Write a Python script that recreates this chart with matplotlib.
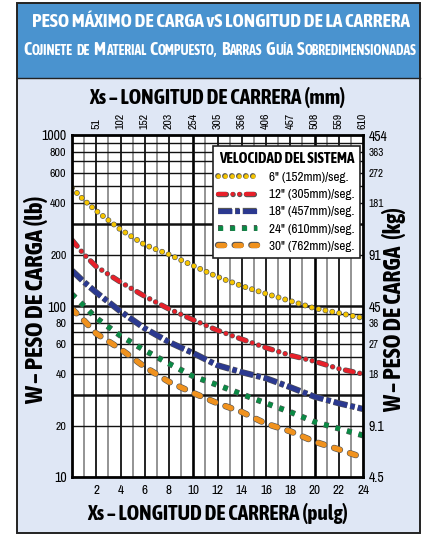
import matplotlib
matplotlib.use("Agg")
import matplotlib.pyplot as plt
import matplotlib.patheffects as pe
from matplotlib import font_manager
from matplotlib.patches import Rectangle
from matplotlib.ticker import FixedLocator, NullLocator, NullFormatter

plt.rcParams['font.family'] = ['Archivo Narrow', 'DejaVu Sans']
plt.rcParams['lines.scale_dashes'] = False

# data (stroke in inches, load in lb)
stroke_in = [0, 1, 2, 4, 6, 8, 10, 12, 14, 16, 18, 20, 22, 24]
load_6 = [490, 415, 360, 280, 228, 200, 172, 148, 131, 118, 107, 97, 91, 85]
load_12 = [243, 200, 170, 138, 114, 96, 83, 72, 64, 57, 51.5, 47.5, 43, 40]
load_18 = [161, 138, 120, 93, 74, 61.5, 53, 45, 41, 37.8, 33.5, 29.5, 27, 25]
load_24 = [117, 100, 85, 67, 55, 46, 38.8, 34.5, 30.5, 27, 24, 21, 19.2, 17.5]
load_30 = [96, 82, 69, 56, 44, 36, 31, 27, 24, 20.5, 18.5, 16.1, 14.5, 13]

series_labels = ['6" (152mm)/seg.', '12" (305mm)/seg.', '18" (457mm)/seg.',
                 '24" (610mm)/seg.', '30" (762mm)/seg.']

inch_ticks = [2, 4, 6, 8, 10, 12, 14, 16, 18, 20, 22, 24]
mm_labels = ['51', '102', '152', '203', '254', '305', '356', '406', '457', '508', '559', '610']
lb_ticks = [10, 20, 40, 60, 80, 100, 200, 400, 600, 800, 1000]
kg_labels = ['4.5', '9.1', '18', '27', '36', '45', '91', '181', '272', '363', '454']
big_lb = [10, 100, 1000]
big_kg = ['4.5', '45', '454', '9.1', '91']


# bold condensed face (falls back to DejaVu Sans Bold)
def find_font(name):
    for f in font_manager.fontManager.ttflist:
        if f.fname.split('/')[-1].lower() == name.lower():
            return f.fname
    return None


bold_file = find_font('AsapCondensed-Bold.ttf')


def bold(size):
    if bold_file:
        return font_manager.FontProperties(fname=bold_file, size=size)
    return font_manager.FontProperties(family='DejaVu Sans', weight='bold', size=size)


W, H = 428, 538
fig = plt.figure(figsize=(W / 100, H / 100), dpi=100)
rend = fig.canvas.get_renderer()


def fit(t, target, vertical=False):
    bb = t.get_window_extent(rend)
    cur = bb.height if vertical else bb.width
    t.set_fontsize(t.get_fontsize() * target / cur)


# background panels
fig.patches.append(Rectangle((17 / W, 5 / H), 403 / W, 455 / H, transform=fig.transFigure,
                             facecolor='#dfe7f5', edgecolor='none', zorder=-5))
fig.patches.append(Rectangle((17 / W, 460 / H), 403 / W, 75 / H, transform=fig.transFigure,
                             facecolor='#4a93cf', edgecolor='none', zorder=-5))
fig.patches.append(Rectangle((17 / W, 5 / H), 403 / W, 530 / H, transform=fig.transFigure,
                             facecolor='none', edgecolor='#222222', lw=1.4, zorder=-4))
fig.lines.append(plt.Line2D([17 / W, 420 / W], [460 / H, 460 / H], transform=fig.transFigure,
                            color='#222222', lw=1.0, zorder=-4))

t1 = fig.text(221 / W, 1 - 22 / H, 'PESO MÁXIMO DE CARGA vS LONGITUD DE LA CARRERA',
              color='white', fontproperties=bold(13), ha='center', va='center')
fit(t1, 375)


def small_caps(y_px, text, big, small, x_center, target):
    # capitals drawn big, the lower-case runs as small capitals
    items = []
    for word in text.split(' '):
        cur = ''
        cur_big = None
        parts = []
        for ch in word:
            is_big = ch.isupper()
            if cur and is_big != cur_big:
                parts.append((cur, cur_big))
                cur = ''
            cur += ch
            cur_big = is_big
        parts.append((cur, cur_big))
        for s, b in parts:
            t = fig.text(0, y_px, s.upper(), fontproperties=bold(big if b else small),
                         color='white', ha='left', va='baseline', transform=None)
            items.append((t, b))
        items.append((None, None))
    items.pop()

    def layout(scale):
        x = 0
        pos = []
        for t, b in items:
            if t is None:
                x += 3.0 * scale
                continue
            t.set_fontsize((big if b else small) * scale)
            pos.append((t, x))
            x += t.get_window_extent(rend).width
        return x, pos

    total, pos = layout(1.0)
    total, pos = layout(target / total)
    x0 = x_center - total / 2
    for t, dx in pos:
        t.set_position((x0 + dx, y_px))


# axes
ax = fig.add_axes([72 / W, 61 / H, 291 / W, 342 / H])
ax.set_xlim(0, 24)
ax.set_yscale('log')
ax.set_ylim(10, 1000)
ax.set_facecolor('white')

# grid
for xv in range(1, 24):
    if xv % 10 == 0:
        ax.axvline(xv, color='black', lw=1.9, zorder=1)
    elif xv % 2 == 0:
        ax.axvline(xv, color='#111111', lw=1.3, zorder=1)
    else:
        ax.axvline(xv, color='#777777', lw=1.1, zorder=1)
for dec in [10, 100]:
    for m in range(1, 10):
        yv = dec * m
        if yv == 10:
            continue
        heavy = yv in (30, 100, 300)
        ax.axhline(yv, color='#111111', lw=1.8 if heavy else 1.0, zorder=1)

for sp in ax.spines.values():
    sp.set_linewidth(2.0)
    sp.set_zorder(5)

ol = '#555555'
curves = [
    (load_6, dict(color='#f7c600', lw=3.3, linestyle=(0, (0.01, 5.0)), dash_capstyle='round')),
    (load_12, dict(color='#e8202a', lw=3.0, linestyle=(0, (5.7, 4.8, 0.01, 4.8, 0.01, 4.8)),
                   dash_capstyle='round')),
    (load_18, dict(color='#2b3990', lw=3.6, linestyle=(0, (10, 2.3, 3.2, 2.3)), dash_capstyle='butt')),
    (load_24, dict(color='#0b8a45', lw=3.4, linestyle=(0, (3.4, 5.2)), dash_capstyle='butt')),
    (load_30, dict(color='#f0921e', lw=3.7, linestyle=(0, (4.4, 7.6)), dash_capstyle='round')),
]
handles = []
for (vals, style), lab in zip(curves, series_labels):
    line, = ax.plot(stroke_in, vals, label=lab, zorder=3, **style)
    line.set_path_effects([pe.Stroke(linewidth=style['lw'] + 0.9, foreground=ol), pe.Normal()])
    handles.append(line)

leg = ax.legend(handles=handles, loc='upper left', bbox_to_anchor=(0.483, 0.968),
                title='VELOCIDAD DEL SISTEMA', title_fontproperties=bold(10),
                fontsize=9.5, handlelength=2.9, handletextpad=0.9, labelspacing=0.45,
                borderpad=0.45, fancybox=False, framealpha=1, edgecolor='#222222',
                borderaxespad=0)
leg.get_frame().set_linewidth(1.2)
leg.set_zorder(6)
fit(leg.get_title(), 136)

# bottom / left ticks
ax.xaxis.set_major_locator(FixedLocator(inch_ticks))
ax.xaxis.set_minor_locator(NullLocator())
ax.set_xticklabels([str(v) for v in inch_ticks], fontsize=9.5)
ax.yaxis.set_major_locator(FixedLocator(lb_ticks))
ax.yaxis.set_minor_locator(NullLocator())
ax.yaxis.set_minor_formatter(NullFormatter())
ax.set_yticklabels([str(v) for v in lb_ticks])
for lab, v in zip(ax.get_yticklabels(), lb_ticks):
    lab.set_fontsize(10 if v in big_lb else 8.5)
ax.tick_params(axis='both', length=0)
ax.tick_params(axis='x', pad=6)
ax.tick_params(axis='y', pad=4)

# top mm axis
axt = ax.twiny()
axt.set_xlim(ax.get_xlim())
axt.xaxis.set_major_locator(FixedLocator(inch_ticks))
axt.set_xticklabels(mm_labels, rotation=90, fontsize=8.5)
axt.tick_params(axis='x', length=0, pad=4)

# right kg axis
axr = ax.twinx()
axr.set_yscale('log')
axr.set_ylim(ax.get_ylim())
axr.yaxis.set_major_locator(FixedLocator(lb_ticks))
axr.yaxis.set_minor_locator(NullLocator())
axr.yaxis.set_minor_formatter(NullFormatter())
axr.set_yticklabels(kg_labels)
for lab, k in zip(axr.get_yticklabels(), kg_labels):
    lab.set_fontsize(10 if k in big_kg else 8)
axr.tick_params(axis='y', length=0, pad=4)
for a in (axt, axr):
    for sp in a.spines.values():
        sp.set_visible(False)

# axis titles
xt = fig.text(217 / W, 1 - 98 / H, 'Xs – LONGITUD DE CARRERA (mm)', fontproperties=bold(13),
              ha='center', va='center')
fit(xt, 256)
xb = fig.text(218 / W, 1 - 513 / H, 'Xs – LONGITUD DE CARRERA (pulg)', fontproperties=bold(13),
              ha='center', va='center')
fit(xb, 260)
yl = fig.text(36 / W, 1 - 300 / H, 'W – PESO DE CARGA (lb)', fontproperties=bold(13),
              ha='center', va='center', rotation=90)
fit(yl, 208, vertical=True)
yr = fig.text(394 / W, 1 - 309 / H, 'W – PESO DE CARGA  (kg)', fontproperties=bold(13),
              ha='center', va='center', rotation=90)
fit(yr, 204, vertical=True)

small_caps(H - 55, 'Cojinete de Material Compuesto, Barras Guía Sobredimensionadas', 10.5, 8, 220, 396)

fig.savefig('out.png', dpi=100)
